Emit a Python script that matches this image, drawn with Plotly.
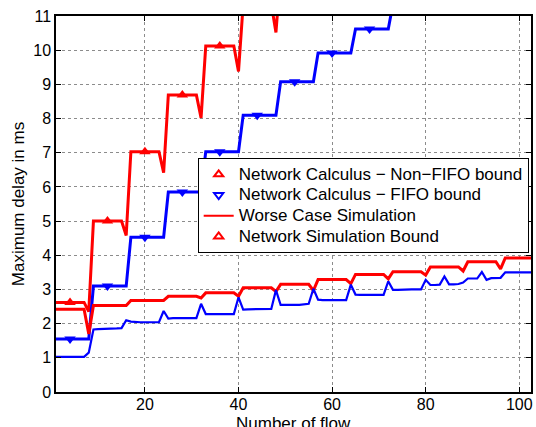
import plotly.graph_objects as go

# ---------------- data ----------------
flows = list(range(1, 104))

nonfifo_x = list(range(1, 57))
nonfifo_bound = ([2.62] * 7 + [2.35] + [5.0] * 7 + [4.58] + [7.03] * 7 + [6.42] +
                 [8.69] * 7 + [8.02] + [10.12] * 7 + [9.38] + [11.35] * 7 + [10.52] +
                 [12.3] * 8)

fifo_x = list(range(1, 81))
fifo_bound = ([1.55] * 8 + [3.1] * 8 + [4.53] * 8 + [5.85] * 8 + [7.03] * 8 +
              [8.1] * 8 + [9.08] * 8 + [9.92] * 8 + [10.62] * 8 + [11.35] * 8)

worst_case_sim = ([2.42] * 7 + [1.7] + [2.53] * 8 + [2.68] * 8 + [2.8] * 7 + [2.75] +
                  [2.9] * 7 + [2.8] + [3.05] * 7 + [2.94] + [3.15] * 7 + [2.97] +
                  [3.29] * 7 + [3.17] + [3.44] * 7 + [3.31] + [3.52] * 7 + [3.42] +
                  [3.66] * 7 + [3.54] + [3.81] * 7 + [3.6] + [3.92] * 7)

network_sim = ([1.03] * 7 + [1.15] +
               [1.83, 1.84, 1.84, 1.85, 1.85, 1.86, 1.87] + [2.1] +
               [2.06] + [2.04] * 6 + [2.37] +
               [2.15] + [2.16] * 6 + [2.58] +
               [2.28] * 7 + [2.77] +
               [2.41, 2.42, 2.42, 2.42, 2.43, 2.42, 2.43] + [2.98] +
               [2.55, 2.55, 2.56, 2.55, 2.55, 2.56, 2.58] + [3.02] +
               [2.70, 2.69, 2.69, 2.69, 2.68, 2.69, 2.69] + [3.14] +
               [2.85, 2.84, 2.84, 2.84, 2.83, 2.83, 2.84] + [3.24] +
               [2.99, 2.99, 3.0, 2.99, 3.0, 3.0, 3.0] + [3.28] +
               [3.13, 3.13, 3.14] + [3.38] + [3.15, 3.15, 3.16] + [3.2] +
               [3.32, 3.32, 3.32] + [3.51] + [3.28] + [3.33, 3.33, 3.34] +
               [3.5] * 7)

marker_flows = [4, 12, 20, 28, 36, 44, 52, 60, 68, 76]

legend_labels = ["Network Calculus \u2212 Non\u2212FIFO bound",
                 "Network Calculus \u2212 FIFO bound",
                 "Worse Case Simulation",
                 "Network Simulation Bound"]

x_title = "Number of flow"
y_title = "Maximum delay in ms"

x_ticks = [20, 40, 60, 80, 100]
y_ticks = list(range(0, 12))

RED = "rgb(255,0,0)"
BLUE = "rgb(0,0,255)"
FONT = "Liberation Sans, Arial, Helvetica, sans-serif"


def big(label):
    return '<span style="font-size:17px">' + label + '</span>'


fig = go.Figure()

# main curves
fig.add_trace(go.Scatter(x=nonfifo_x, y=nonfifo_bound, mode="lines",
                         line=dict(color=RED, width=3), showlegend=False))
fig.add_trace(go.Scatter(x=fifo_x, y=fifo_bound, mode="lines",
                         line=dict(color=BLUE, width=3), showlegend=False))
fig.add_trace(go.Scatter(x=flows, y=worst_case_sim, mode="lines",
                         line=dict(color=RED, width=3), showlegend=False))
fig.add_trace(go.Scatter(x=flows, y=network_sim, mode="lines",
                         line=dict(color=BLUE, width=2.2), showlegend=False))

# markers on the bound curves
nf_mx = [m for m in marker_flows if m <= len(nonfifo_bound)]
fig.add_trace(go.Scatter(x=nf_mx, y=[nonfifo_bound[m - 1] for m in nf_mx], mode="markers",
                         marker=dict(symbol="triangle-up", color=RED, size=10),
                         showlegend=False))
f_mx = [m for m in marker_flows if m <= len(fifo_bound)]
fig.add_trace(go.Scatter(x=f_mx, y=[fifo_bound[m - 1] for m in f_mx], mode="markers",
                         marker=dict(symbol="triangle-down", color=BLUE, size=10),
                         showlegend=False))

# legend entries
fig.add_trace(go.Scatter(x=[None], y=[None], mode="markers", name=big(legend_labels[0]),
                         marker=dict(symbol="triangle-up-open", color=RED, size=8,
                                     line=dict(width=2))))
fig.add_trace(go.Scatter(x=[None], y=[None], mode="markers", name=big(legend_labels[1]),
                         marker=dict(symbol="triangle-down-open", color=BLUE, size=8,
                                     line=dict(width=2))))
fig.add_trace(go.Scatter(x=[None], y=[None], mode="lines", name=big(legend_labels[2]),
                         line=dict(color=RED, width=2)))
fig.add_trace(go.Scatter(x=[None], y=[None], mode="markers", name=big(legend_labels[3]),
                         marker=dict(symbol="triangle-up-open", color=RED, size=8,
                                     line=dict(width=2))))

axis_common = dict(showline=True, linecolor="black", linewidth=1.5, mirror="allticks",
                   ticks="inside", ticklen=5, tickcolor="black", tickwidth=1,
                   showgrid=True, gridcolor="#8c8c8c", griddash="dot", gridwidth=1,
                   zeroline=False, tickfont=dict(family=FONT, size=16, color="black"))

fig.update_layout(
    width=536, height=427,
    margin=dict(l=56, r=5, t=16, b=35),
    paper_bgcolor="white", plot_bgcolor="white",
    font=dict(family=FONT, size=17, color="black"),
    xaxis=dict(range=[1, 102.5], tickvals=x_ticks, automargin=False,
               ticklabelstandoff=-3, **axis_common),
    yaxis=dict(range=[0, 11], tickvals=y_ticks, automargin=False,
               title=dict(text=y_title, standoff=4,
                          font=dict(family=FONT, size=17)),
               **axis_common),
    legend=dict(x=0.2983, y=0.6223, xanchor="left", yanchor="top",
                bgcolor="white", bordercolor="black", borderwidth=1,
                font=dict(family=FONT, size=13.6), tracegroupgap=0,
                itemwidth=30),
    showlegend=True,
    annotations=[dict(text=x_title, xref="paper", yref="paper", x=0.5, y=-0.084,
                      xanchor="center", yanchor="middle", showarrow=False,
                      font=dict(family=FONT, size=17, color="black"))],
)

fig.write_html("out.html", config={"displayModeBar": False},
               post_script="document.body.style.margin='0px';")
